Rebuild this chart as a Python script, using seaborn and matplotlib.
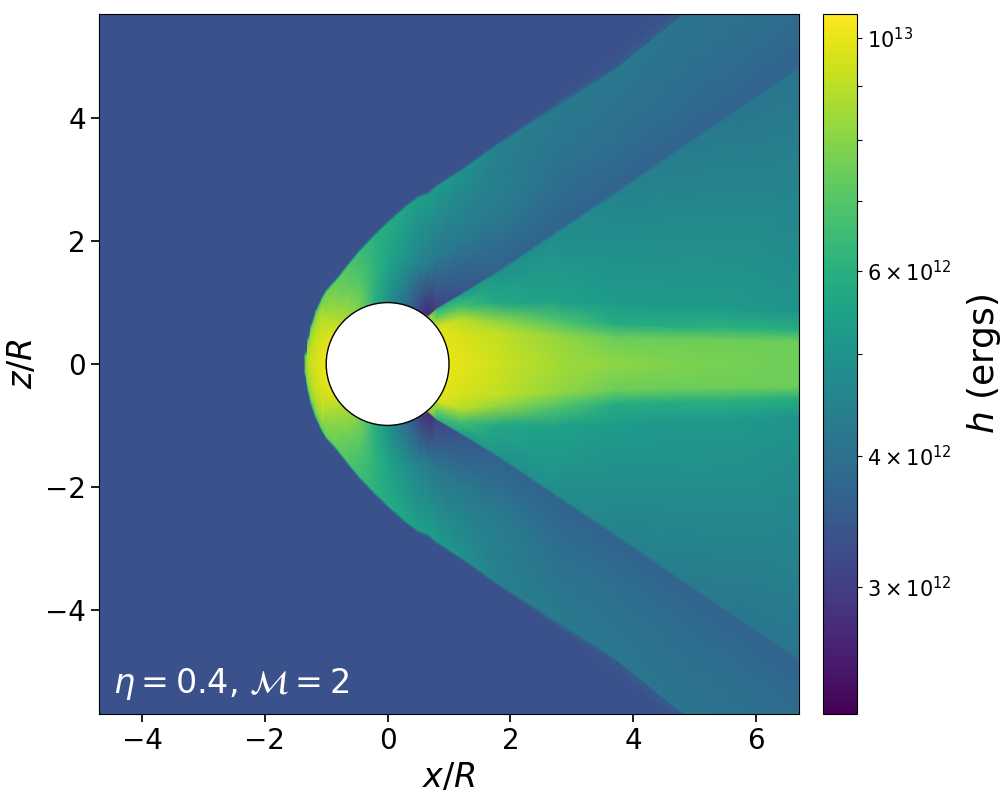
import numpy as np
import matplotlib
matplotlib.use("Agg")
import matplotlib.pyplot as plt
from matplotlib.colors import LogNorm
from matplotlib.patches import Circle
import seaborn as sns

x_cuts = [-5.0, -1.36, -1.33, -1.30, -1.25, -1.17, -1.07, -1.0, -0.82, -0.6, -0.45, -0.2,
          0.04, 0.3, 0.5, 0.66, 0.8, 1.2, 1.83, 2.8, 3.7, 4.5, 5.5, 7.0]

# each row: axis, core, core edge, wedge, below slip, above slip, layer, shock in, band, shock out, top
z_cuts = [
    [0, .05, .10, .15, .20, .25, .30, .35, .38, .40, 9],
    [0, .03, .06, .08, .10, .12, .14, .16, .18, .22, 9],
    [0, .03, .06, .08, .10, .12, .14, .16, .18, .22, 9],
    [0, .08, .16, .22, .26, .30, .34, .38, .41, .44, 9],
    [0, .12, .24, .34, .42, .48, .54, .60, .63, .66, 9],
    [0, .20, .40, .50, .60, .68, .76, .84, .87, .90, 9],
    [0, .25, .45, .60, .72, .82, .92, 1.05, 1.08, 1.12, 9],
    [0, .10, .20, .30, .40, .50, .80, 1.17, 1.20, 1.24, 9],
    [0, .10, .20, .30, .45, .58, .95, 1.37, 1.40, 1.43, 9],
    [0, .20, .40, .60, .75, .81, 1.25, 1.65, 1.68, 1.71, 9],
    [0, .20, .40, .60, .80, .90, 1.40, 1.83, 1.86, 1.89, 9],
    [0, .25, .50, .70, .90, .98, 1.55, 2.09, 2.12, 2.15, 9],
    [0, .25, .50, .70, .90, 1.0, 1.70, 2.32, 2.35, 2.38, 9],
    [0, .25, .50, .70, .90, .96, 1.70, 2.55, 2.58, 2.61, 9],
    [0, .25, .50, .65, .80, .88, 1.60, 2.70, 2.73, 2.76, 9],
    [0, .30, .50, .65, .76, .80, 1.60, 2.76, 2.79, 2.82, 9],
    [0, .40, .60, .75, .89, .92, 1.70, 2.88, 2.91, 2.94, 9],
    [0, .45, .72, .95, 1.12, 1.16, 2.00, 3.14, 3.17, 3.20, 9],
    [0, .50, .68, 1.0, 1.50, 1.55, 2.50, 3.59, 3.62, 3.65, 9],
    [0, .45, .68, 1.0, 2.15, 2.21, 3.20, 4.20, 4.26, 4.32, 9],
    [0, .42, .66, 1.0, 2.75, 2.81, 3.60, 4.79, 4.82, 5.05, 9],
    [0, .40, .62, .95, 3.30, 3.36, 4.20, 5.43, 5.46, 5.70, 9],
    [0, .38, .60, .90, 3.98, 4.04, 5.00, 6.20, 6.25, 6.50, 9],
    [0, .36, .55, .85, 5.00, 5.06, 6.20, 7.40, 7.45, 7.70, 9],
]

h_cuts = [
    [3.32, 3.32, 3.32, 3.32, 3.32, 3.32, 3.32, 3.32, 3.32, 3.32, 3.32],
    [3.32, 3.32, 3.32, 3.32, 3.32, 3.32, 3.32, 3.32, 3.32, 3.32, 3.32],
    [7.9, 7.9, 7.8, 7.7, 7.6, 7.4, 7.0, 6.0, 4.6, 3.32, 3.32],
    [8.9, 8.8, 8.7, 8.5, 8.3, 8.0, 7.5, 6.3, 4.8, 3.32, 3.32],
    [9.3, 9.2, 9.0, 8.8, 8.5, 8.2, 7.8, 6.6, 4.9, 3.32, 3.32],
    [9.6, 9.5, 9.3, 9.0, 8.8, 8.4, 8.0, 7.0, 5.0, 3.32, 3.32],
    [9.9, 9.8, 9.5, 9.2, 9.0, 8.6, 8.3, 7.3, 5.0, 3.32, 3.32],
    [10.1, 10.1, 10.0, 9.9, 9.8, 9.6, 8.6, 7.5, 5.0, 3.32, 3.32],
    [10.1, 10.1, 10.0, 9.9, 9.8, 9.3, 8.0, 7.3, 5.0, 3.32, 3.32],
    [10.0, 10.0, 9.5, 9.0, 8.6, 8.3, 7.3, 6.8, 4.8, 3.32, 3.32],
    [9.5, 9.0, 8.5, 8.2, 8.0, 7.7, 6.9, 6.5, 4.6, 3.32, 3.32],
    [8.0, 7.5, 7.0, 6.5, 6.1, 5.9, 6.1, 6.0, 4.4, 3.32, 3.32],
    [8.0, 7.0, 6.5, 6.0, 5.2, 4.85, 5.5, 5.8, 4.3, 3.32, 3.32],
    [9.5, 9.0, 8.0, 7.0, 5.0, 3.9, 5.0, 5.6, 4.2, 3.32, 3.32],
    [10.0, 10.0, 9.9, 9.5, 8.0, 3.2, 4.4, 5.4, 4.1, 3.32, 3.32],
    [10.1, 10.0, 10.0, 9.7, 9.0, 2.7, 4.3, 5.3, 4.1, 3.32, 3.32],
    [10.1, 10.0, 9.8, 7.5, 6.2, 3.1, 4.2, 5.2, 4.0, 3.32, 3.32],
    [9.9, 9.6, 9.0, 6.6, 5.4, 3.4, 4.25, 4.95, 3.9, 3.32, 3.32],
    [9.35, 9.1, 8.2, 5.65, 5.0, 3.7, 4.3, 4.4, 3.7, 3.32, 3.32],
    [8.5, 8.2, 6.9, 5.5, 4.75, 3.7, 4.05, 4.25, 3.6, 3.32, 3.32],
    [8.1, 7.45, 5.85, 5.24, 4.5, 3.7, 3.95, 4.2, 3.5, 3.32, 3.32],
    [7.9, 7.45, 5.9, 5.2, 4.35, 3.7, 3.95, 4.15, 3.55, 3.32, 3.32],
    [7.7, 7.5, 6.0, 5.2, 4.2, 3.7, 3.95, 4.1, 3.55, 3.32, 3.32],
    [7.45, 7.45, 5.9, 5.0, 4.1, 3.7, 3.95, 4.0, 3.5, 3.32, 3.32],
]

x_ticks = [-4, -2, 0, 2, 4, 6]
z_ticks = [-4, -2, 0, 2, 4]
cbar_major = [3e12, 4e12, 6e12, 1e13]
cbar_major_labels = [r"$3 \times 10^{12}$", r"$4 \times 10^{12}$", r"$6 \times 10^{12}$", r"$10^{13}$"]
cbar_minor = [5e12, 7e12, 8e12, 9e12]

sns.set_theme(style="ticks", rc={
    "axes.edgecolor": "black", "xtick.color": "black", "ytick.color": "black",
    "text.color": "black", "axes.labelcolor": "black", "axes.linewidth": 0.8,
    "font.family": "DejaVu Sans",
})
cmap = sns.color_palette("viridis", as_cmap=True)

fig = plt.figure(figsize=(10.04, 8), dpi=100)
ax = fig.add_axes([99 / 1004, 1 - 714 / 800, 700 / 1004, 700 / 800])
cax = fig.add_axes([823 / 1004, 1 - 714 / 800, 34 / 1004, 700 / 800])

# mirror the upper half about z=0
z_up = np.array(z_cuts, dtype=float)
h_up = np.array(h_cuts, dtype=float) * 1e12
x_mesh = np.tile(np.array(x_cuts)[:, None], (1, 2 * z_up.shape[1] - 1))
z_mesh = np.hstack([-z_up[:, :0:-1], z_up])
h_mesh = np.hstack([h_up[:, :0:-1], h_up])

norm = LogNorm(vmin=2.27e12, vmax=1.054e13)
mesh = ax.pcolormesh(x_mesh, z_mesh, h_mesh, shading="gouraud", cmap=cmap, norm=norm)
ax.add_patch(Circle((0, 0), 1, facecolor="white", edgecolor="black", linewidth=1, zorder=3))

ax.set_xlim(-4.7, 6.7)
ax.set_ylim(-5.7, 5.7)
ax.set_xticks(x_ticks)
ax.set_yticks(z_ticks)
ax.tick_params(labelsize=20)
ax.set_xlabel("$x/R$", fontsize=24, labelpad=4)
ax.set_ylabel("$z/R$", fontsize=24, labelpad=4)
ax.text(-4.47, -5.35, r"$\eta = 0.4$, $\mathcal{M} = 2$", color="white", fontsize=24)

cbar = fig.colorbar(mesh, cax=cax)
cbar.set_ticks(cbar_major, labels=cbar_major_labels)
cax.set_yticks(cbar_minor, minor=True, labels=[""] * len(cbar_minor))
cax.tick_params(which="both", length=3.5, width=0.8, labelsize=15)
cbar.set_label("$h$ (ergs)", fontsize=26, labelpad=10)

fig.savefig("out.png", dpi=100)
